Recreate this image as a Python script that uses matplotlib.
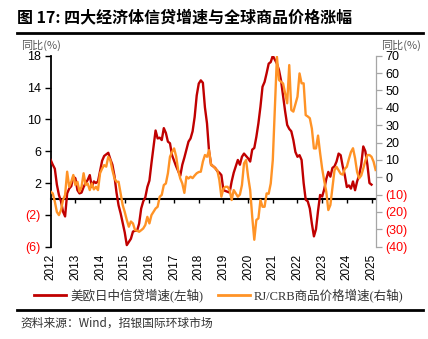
import matplotlib
matplotlib.use("Agg")
import matplotlib.pyplot as plt
import matplotlib.transforms as mtransforms
from matplotlib.lines import Line2D
import numpy as np

# ---- data (monthly) ----
credit_2012 = [4.9, 4.3, 3.8, 1.8, 0.5, -0.3, -1.6, -2.2, 0.7, 1.3, 1.6, 2.8]
credit_2013 = [2.6, 1.1, 0.7, 0.8, 1.5, 2.0, 2.4, 3.0, 1.5, 2.2, 2.0, 2.2]
credit_2014 = [3.5, 4.8, 5.4, 5.6, 5.8, 5.0, 4.3, 2.9, 0.8, -0.8, -1.8, -3.0]
credit_2015 = [-4.2, -5.8, -5.4, -5.0, -4.1, -4.0, -4.0, -3.1, -1.2, -0.3, 0.2, 1.5]
credit_2016 = [2.3, 4.5, 6.5, 8.6, 7.6, 7.7, 7.4, 8.9, 8.3, 7.2, 7.0, 5.5]
credit_2017 = [4.8, 4.1, 3.5, 2.9, 4.3, 5.2, 6.2, 7.2, 7.6, 8.5, 10.3, 13.0]
credit_2018 = [14.5, 14.9, 14.6, 11.5, 9.5, 6.0, 4.3, 4.1, 3.9, 3.5, 3.3, 3.0]
credit_2019 = [1.1, 1.0, 0.9, 0.8, 2.2, 3.3, 4.1, 4.9, 4.3, 5.3, 5.7, 5.4]
credit_2020 = [5.1, 4.7, 6.2, 6.4, 7.8, 9.5, 11.6, 14.1, 14.7, 15.8, 17.0, 17.2]
credit_2021 = [18.0, 17.5, 17.0, 16.2, 14.9, 12.9, 11.0, 9.3, 8.8, 8.5, 7.4, 5.9]
credit_2022 = [5.3, 5.5, 4.9, 2.0, -0.1, -0.3, -1.2, -3.1, -4.7, -3.8, -1.5, 0.5]
credit_2023 = [0.3, 1.2, 2.5, 3.4, 2.8, 3.9, 4.1, 4.7, 5.7, 5.5, 4.1, 3.0]
credit_2024 = [1.5, 1.7, 1.3, 2.2, 1.1, 2.2, 3.0, 4.3, 6.6, 6.0, 4.3, 2.0]
credit_2025 = [1.8]

crb_2012 = [-8.3, -9.3, -14.0, -20.0, -21.8, -18.9, -13.1, -10.2, 3.2, -5.5, -2.6, 1.3]
crb_2013 = [-4.5, -2.6, -8.3, -5.5, 2.3, -4.5, -3.6, -7.4, -3.6, -7.0, -5.5, -7.4]
crb_2014 = [2.3, 5.0, 7.0, 6.1, 11.8, 9.9, 4.1, -0.6, -2.6, -2.6, -9.3, -16.0]
crb_2015 = [-20.0, -24.6, -28.5, -25.5, -26.6, -30.4, -30.8, -31.4, -30.5, -29.5, -27.5, -22.8]
crb_2016 = [-26.6, -21.8, -19.9, -18.0, -17.0, -11.2, -10.2, -4.5, -3.6, 2.3, 11.8, 14.5]
crb_2017 = [16.6, 12.0, 4.0, -0.7, -3.6, -9.0, 0.3, -0.7, 0.3, -0.5, 1.0, 2.3]
crb_2018 = [3.0, 3.2, 9.0, 12.8, 11.8, 15.6, 7.0, 6.5, 5.0, 4.1, -1.6, -11.2]
crb_2019 = [-6.5, -5.5, -5.5, -7.4, -13.1, -7.4, -9.3, -11.2, -10.0, -4.5, 8.0, 9.9]
crb_2020 = [0.3, -7.4, -22.8, -36.0, -24.6, -23.7, -13.1, -17.0, -17.0, -9.3, -9.5, -3.6]
crb_2021 = [9.9, 40.0, 69.4, 56.0, 55.0, 54.0, 48.3, 42.6, 64.6, 38.7, 37.8, 42.0]
crb_2022 = [46.4, 59.8, 54.1, 54.1, 35.8, 35.0, 34.0, 28.0, 16.6, 16.6, 24.0, 14.0]
crb_2023 = [5.0, -2.0, -8.3, -18.9, -16.0, -6.0, 4.0, 6.0, 4.0, 2.0, 1.5, 4.8]
crb_2024 = [6.0, 10.5, 14.5, 16.7, 11.0, 3.0, -0.6, 1.0, 5.0, 9.5, 12.8, 12.8]
crb_2025 = [11.8, 9.0, 4.2]

credit = (credit_2012 + credit_2013 + credit_2014 + credit_2015 + credit_2016 +
          credit_2017 + credit_2018 + credit_2019 + credit_2020 + credit_2021 +
          credit_2022 + credit_2023 + credit_2024 + credit_2025)
crb = (crb_2012 + crb_2013 + crb_2014 + crb_2015 + crb_2016 + crb_2017 +
       crb_2018 + crb_2019 + crb_2020 + crb_2021 + crb_2022 + crb_2023 +
       crb_2024 + crb_2025)
start_year = 2012
years = list(range(2012, 2026))
left_ticks = [18, 14, 10, 6, 2, -2, -6]
right_ticks = [70, 60, 50, 40, 30, 20, 10, 0, -10, -20, -30, -40]

title = "图 17: 四大经济体信贷增速与全球商品价格涨幅"
unit = "同比(%)"
label_credit = "美欧日中信贷增速(左轴)"
label_crb = "RJ/CRB商品价格增速(右轴)"
source = "资料来源：Wind，招银国际环球市场"

# ---- styles ----
RED = "#C00000"
ORANGE = "#FF9326"
CJK = ["Noto Sans CJK SC", "DejaVu Sans"]
SANS = ["Liberation Sans", "Noto Sans CJK SC"]
SERIF = ["Liberation Serif", "Noto Sans CJK SC"]

plt.rcParams["font.family"] = SANS

W, H = 428, 339
fig = plt.figure(figsize=(W / 100, H / 100), dpi=100)

def fx(px):
    return px / W

def fy(py):
    return 1 - py / H

ax_l, ax_r, ax_t, ax_b = 50.7, 375.7, 55.7, 246.7
ax = fig.add_axes([fx(ax_l), fy(ax_b), fx(ax_r - ax_l), (ax_b - ax_t) / H])
ax2 = ax.twinx()

t_credit = [start_year + i / 12 for i in range(len(credit))]
t_crb = [start_year + i / 12 for i in range(len(crb))]

ax.plot(t_credit, credit, color=RED, lw=1.7, solid_joinstyle="round", zorder=3)
ax2.plot(t_crb, crb, color=ORANGE, lw=1.7, solid_joinstyle="round", zorder=3)

ax.set_xlim(2012.0, 2025.17)
ax.set_ylim(-6, 18)
ax2.set_ylim(-40, 70)

# spines
for a in (ax, ax2):
    a.spines["top"].set_visible(False)
ax.spines["right"].set_visible(False)
ax2.spines["left"].set_visible(False)
ax2.spines["bottom"].set_visible(False)
ax.spines["left"].set_color("black")
ax.spines["left"].set_linewidth(1.3)
ax2.spines["right"].set_color("#A6A6A6")
ax2.spines["right"].set_linewidth(0.9)
ax.spines["bottom"].set_position(("data", 0))
ax.spines["bottom"].set_linewidth(1.5)
ax.spines["bottom"].set_color("black")

# x ticks on the zero line, labels at the bottom
ax.set_xticks(years[1:])
ax.tick_params(axis="x", direction="out", length=3, width=1, colors="black",
               labelbottom=False)
trans = mtransforms.blended_transform_factory(ax.transData, ax.transAxes)
for yr in years:
    ax.text(yr, -0.035, str(yr), transform=trans, rotation=90, ha="center",
            va="top", fontsize=8.5, family=SANS, color="black")

# y ticks
def fmt(v):
    return "(%d)" % abs(v) if v < 0 else "%d" % v

ax.set_yticks(left_ticks)
ax.set_yticklabels([fmt(v) for v in left_ticks])
ax.tick_params(axis="y", direction="out", length=4, width=1, labelsize=9,
               colors="black", pad=3)
for lab, v in zip(ax.get_yticklabels(), left_ticks):
    lab.set_color("red" if v < 0 else "black")

ax2.set_yticks(right_ticks)
ax2.set_yticklabels([fmt(v) for v in right_ticks])
ax2.tick_params(axis="y", direction="out", length=4, width=0.9, labelsize=9,
                color="#A6A6A6", pad=3)
for lab, v in zip(ax2.get_yticklabels(), right_ticks):
    lab.set_color("red" if v < 0 else "black")

# title and rules
fig.text(fx(17), fy(17), title, fontsize=11.5, fontweight="bold", family=CJK,
         ha="left", va="center", color="black")
fig.add_artist(Line2D([fx(17), fx(423)], [fy(33), fy(33)], color="black", lw=2))
fig.add_artist(Line2D([fx(17), fx(423)], [fy(310), fy(310)], color="black", lw=2))

fig.text(fx(21), fy(45), unit, fontsize=8, family=CJK, color="#595959",
         ha="left", va="center")
fig.text(fx(421), fy(45), unit, fontsize=8, family=CJK, color="#595959",
         ha="right", va="center")

# legend
fig.add_artist(Line2D([fx(34), fx(66)], [fy(295), fy(295)], color=RED, lw=2))
fig.text(fx(70), fy(295), label_credit, fontsize=9, family=SERIF, ha="left",
         va="center", color="#333333")
fig.add_artist(Line2D([fx(218), fx(250)], [fy(295), fy(295)], color=ORANGE, lw=2))
fig.text(fx(254), fy(295), label_crb, fontsize=9, family=SERIF, ha="left",
         va="center", color="#333333")

fig.text(fx(20), fy(323), source, fontsize=8.5, family=CJK, ha="left",
         va="center", color="#333333")

fig.savefig("out.png", dpi=100)
